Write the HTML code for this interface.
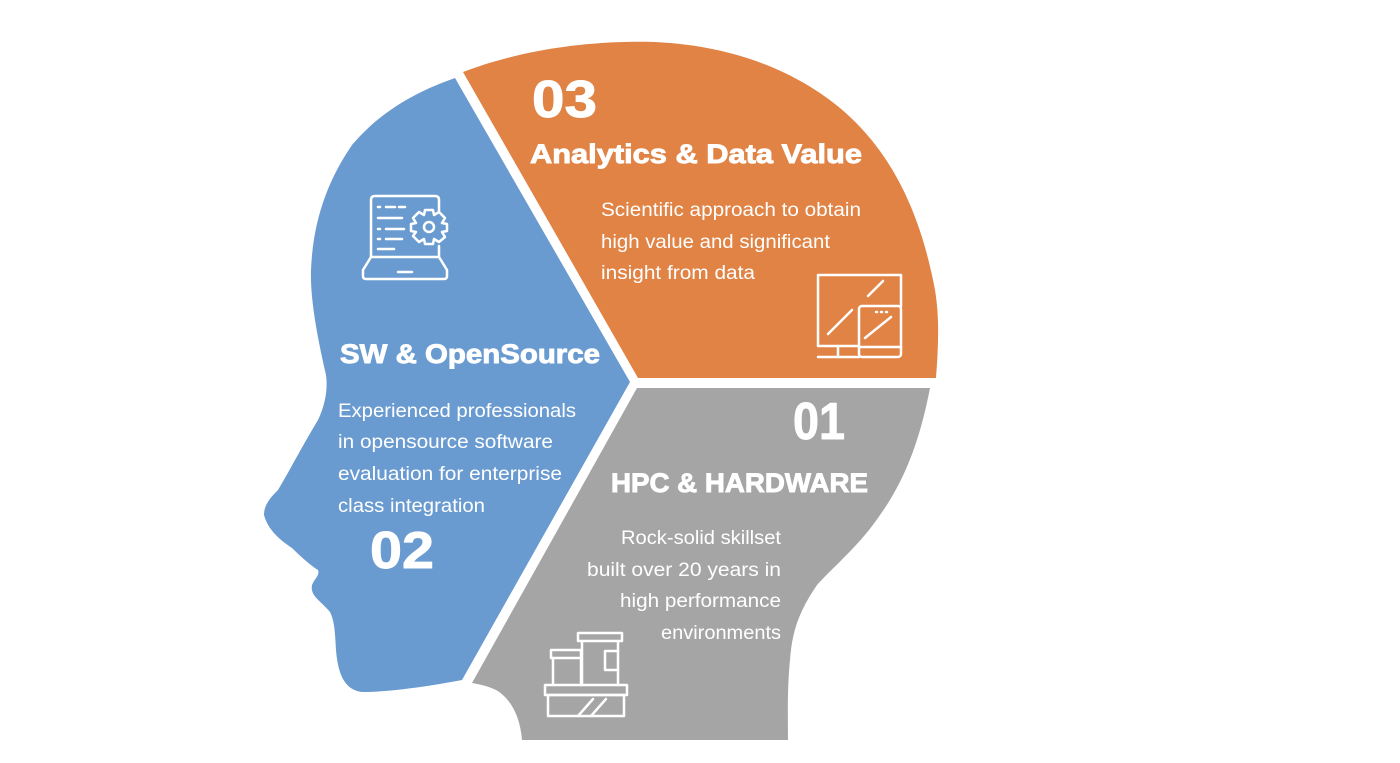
<!DOCTYPE html>
<html><head><meta charset="utf-8"><style>
html,body{margin:0;padding:0;background:#fff;}
svg{display:block}
.h{font-family:"Liberation Sans",sans-serif;font-weight:bold;fill:#fff;stroke:#fff;stroke-width:0.9}
.b{font-family:"Liberation Sans",sans-serif;fill:#fff;font-size:19px}
.ic{fill:none;stroke:#fff;stroke-width:2.5;stroke-linecap:round;stroke-linejoin:round}
</style></head><body>
<svg width="1400" height="763" viewBox="0 0 1400 763" xmlns="http://www.w3.org/2000/svg">
<path fill="#e08345" d="M463,72 C520,50 590,40 655,42 C740,46 800,75 840,108 C890,150 920,210 935,290 C940,320 938,350 936,378 L638,378 Z"/>
<path fill="#6a9bd0" d="M455,78 L630,382 L462,680 C420,688 385,692 362,692 C345,690 338,675 336,650 C335,635 335,622 330,612 C320,600 310,596 312,585 C315,578 320,575 318,570 C310,565 300,556 292,548 C280,540 268,530 264,515 C264,505 270,498 278,490 C290,470 300,450 318,420 C325,405 328,390 326,375 C318,340 310,300 311,270 C313,220 328,180 352,145 C380,112 415,92 455,78 Z"/>
<path fill="#a5a5a5" d="M637,388 L930,388 C920,440 905,480 880,515 C860,545 835,565 817,585 C800,610 792,630 790,660 C787,690 788,720 788,740 L522,740 C520,715 510,698 496,690 C488,686 478,684 472,683 Z"/>

<text class="h" x="532" y="117" font-size="52" textLength="65" lengthAdjust="spacingAndGlyphs">03</text>
<text class="h" x="530" y="163" font-size="27" textLength="332" lengthAdjust="spacingAndGlyphs">Analytics &amp; Data Value</text>
<text class="b" x="601" y="216" textLength="260" lengthAdjust="spacingAndGlyphs">Scientific approach to obtain</text>
<text class="b" x="601" y="248" textLength="229" lengthAdjust="spacingAndGlyphs">high value and significant</text>
<text class="b" x="601" y="279" textLength="154" lengthAdjust="spacingAndGlyphs">insight from data</text>

<text class="h" x="340" y="363" font-size="27" textLength="260" lengthAdjust="spacingAndGlyphs">SW &amp; OpenSource</text>
<text class="b" x="338" y="417" textLength="238" lengthAdjust="spacingAndGlyphs">Experienced professionals</text>
<text class="b" x="338" y="448" textLength="215" lengthAdjust="spacingAndGlyphs">in opensource software</text>
<text class="b" x="338" y="480" textLength="224" lengthAdjust="spacingAndGlyphs">evaluation for enterprise</text>
<text class="b" x="338" y="512" textLength="147" lengthAdjust="spacingAndGlyphs">class integration</text>
<text class="h" x="370" y="568" font-size="52" textLength="64" lengthAdjust="spacingAndGlyphs">02</text>

<text class="h" x="793" y="439" font-size="52" textLength="52" lengthAdjust="spacingAndGlyphs">01</text>
<text class="h" x="611" y="492" font-size="27" textLength="257" lengthAdjust="spacingAndGlyphs">HPC &amp; HARDWARE</text>
<text class="b" x="781" y="544" text-anchor="end" textLength="160" lengthAdjust="spacingAndGlyphs">Rock-solid skillset</text>
<text class="b" x="781" y="576" text-anchor="end" textLength="194" lengthAdjust="spacingAndGlyphs">built over 20 years in</text>
<text class="b" x="781" y="607" text-anchor="end" textLength="161" lengthAdjust="spacingAndGlyphs">high performance</text>
<text class="b" x="781" y="639" text-anchor="end" textLength="120" lengthAdjust="spacingAndGlyphs">environments</text>

<g class="ic">
<path d="M371,257 L371,200 Q371,196 375,196 L435,196 Q439,196 439,200 L439,211"/>
<path d="M439,246 L439,257"/>
<path d="M371,257 L439,257 L447,270 L447,276 Q447,279 444,279 L366,279 Q363,279 363,276 L363,270 Z"/>
<line x1="398" y1="272" x2="412" y2="272"/>
<line x1="378" y1="207" x2="380" y2="207"/><line x1="386" y1="207" x2="395" y2="207"/><line x1="399" y1="207" x2="405" y2="207"/>
<line x1="378" y1="218" x2="402" y2="218"/>
<line x1="378" y1="229" x2="380" y2="229"/><line x1="386" y1="229" x2="404" y2="229"/>
<line x1="378" y1="239" x2="380" y2="239"/><line x1="386" y1="239" x2="402" y2="239"/>
<line x1="378" y1="249" x2="394" y2="249"/>
<circle cx="429" cy="227" r="5"/>
<path d="M425,210 L433,210 L434,215 L439,212 L445,218 L442,223 L447,224 L447,231 L442,232 L445,237 L439,242 L434,239 L433,244 L425,244 L424,239 L419,242 L413,236 L416,232 L411,231 L411,224 L416,223 L413,218 L419,212 L424,215 Z"/>
</g>
<g class="ic">
<path d="M859,346 L818,346 L818,275 L901,275 L901,306"/>
<line x1="838" y1="346" x2="838" y2="357"/><line x1="818" y1="357" x2="859" y2="357"/>
<line x1="868" y1="296" x2="883" y2="281"/>
<line x1="828" y1="334" x2="852" y2="310"/>
<rect x="859" y="306" width="42" height="51" rx="3"/>
<line x1="859" y1="347" x2="901" y2="347"/>
<line x1="876" y1="312" x2="877" y2="312"/><line x1="881" y1="312" x2="882" y2="312"/><line x1="886" y1="312" x2="887" y2="312"/>
<line x1="865" y1="338" x2="891" y2="317"/>
</g>
<g class="ic" stroke-linecap="butt">
<rect x="578" y="633" width="44" height="8"/>
<path d="M582,641 L582,685 M618,641 L618,685"/>
<path d="M618,651 L605,651 L605,670 L618,670"/>
<rect x="551" y="650" width="30" height="8"/>
<path d="M553,658 L553,685 M581,658 L581,685"/>
<rect x="545" y="685" width="82" height="10"/>
<rect x="548" y="695" width="76" height="21"/>
<line x1="578" y1="716" x2="593" y2="699"/><line x1="591" y1="716" x2="606" y2="699"/>
</g>
</svg>
</body></html>
